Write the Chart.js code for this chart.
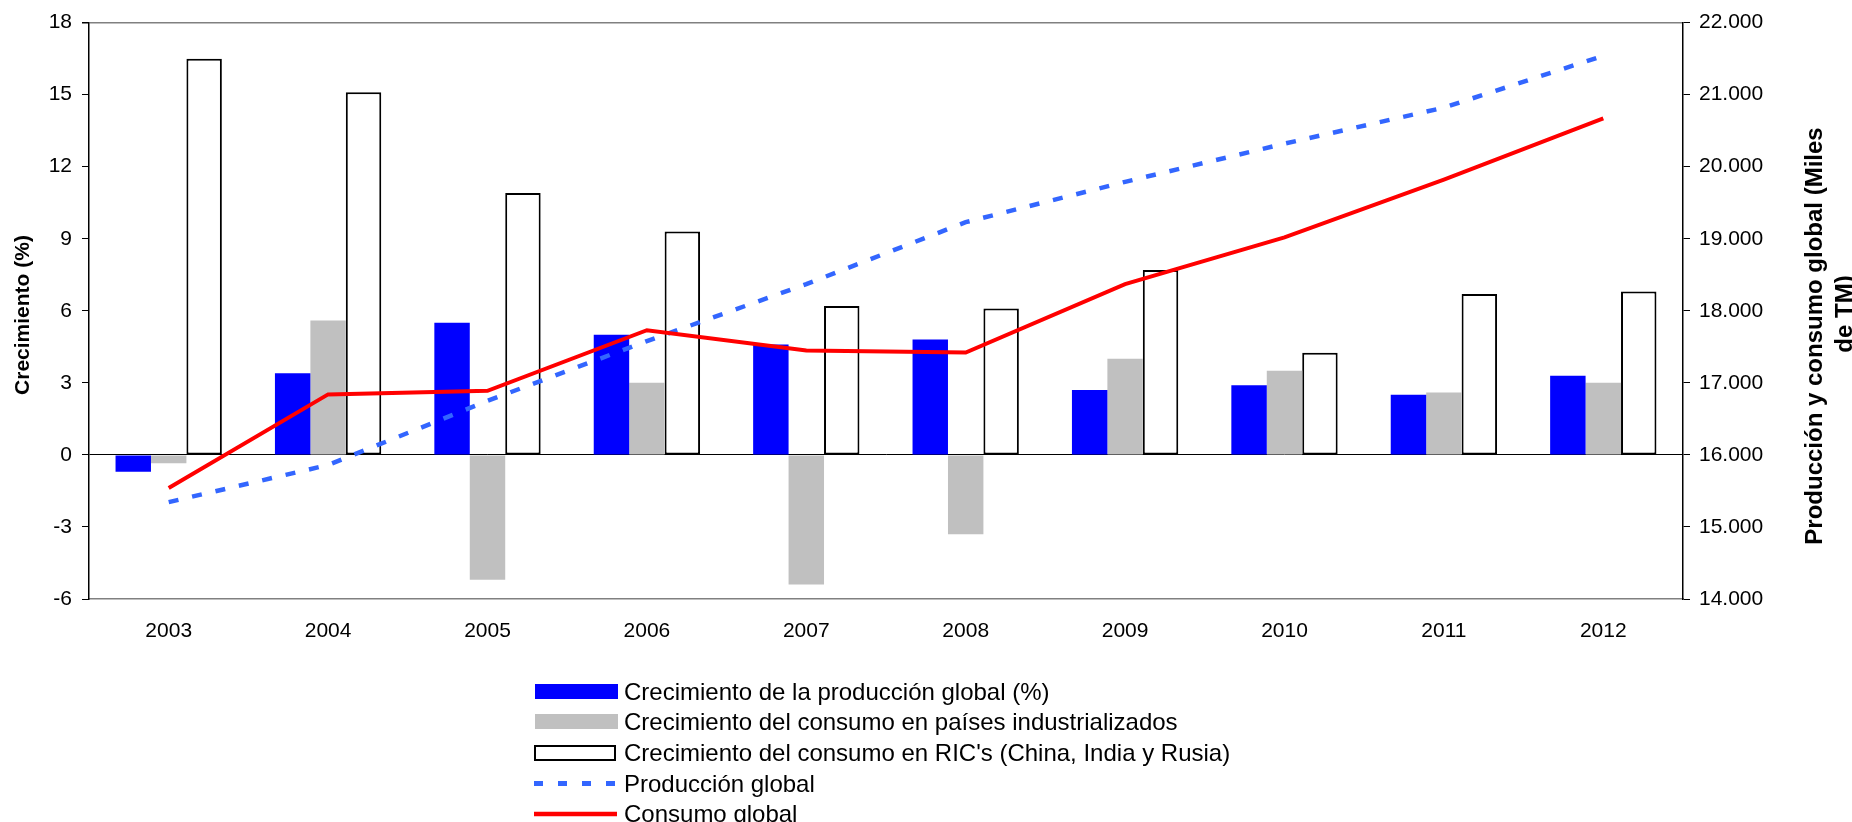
<!DOCTYPE html>
<html>
<head>
<meta charset="utf-8">
<script src="https://cdn.jsdelivr.net/npm/chart.js@4"></script>
<style>
  html, body { margin: 0; padding: 0; background: #fff; }
  #wrap { width: 1852px; height: 822px; }
</style>
</head>
<body>
<div id="wrap"><canvas id="chart1" width="1852" height="822"></canvas></div>
<script>
const years = ['2003', '2004', '2005', '2006', '2007', '2008', '2009', '2010', '2011', '2012'];

// crecimiento anual (%)
const prodGrowth = [-0.7, 3.4, 5.5, 5.0, 4.6, 4.8, 2.7, 2.9, 2.5, 3.3];
const indGrowth = [-0.35, 5.6, -5.2, 3.0, -5.4, -3.3, 4.0, 3.5, 2.6, 3.0];
const ricGrowth = [16.5, 15.1, 10.9, 9.3, 6.2, 6.1, 7.7, 4.25, 6.7, 6.8];

// miles de TM
const prodGlobal = [15345, 15860, 16750, 17580, 18370, 19230, 19790, 20320, 20820, 21540];
const consGlobal = [15540, 16840, 16890, 17730, 17450, 17420, 18370, 19020, 19820, 20670];

const leftTicks = { min: -6, max: 18, step: 3 };
const rightTicks = { min: 14000, max: 22000, step: 1000 };

const FONT = "'Liberation Sans', Arial, sans-serif";

const fmtMiles = v => String(v).replace(/\B(?=(\d{3})+(?!\d))/g, '.');

// titles + vertical legend, drawn on the canvas after the chart
const extras = {
    id: 'extras',
    afterDraw(chart) {
        const ctx = chart.ctx;
        ctx.save();
        ctx.fillStyle = '#000';
        ctx.textAlign = 'center';
        ctx.textBaseline = 'middle';

        ctx.font = 'bold 21px ' + FONT;
        ctx.save();
        ctx.translate(23, 315);
        ctx.rotate(-Math.PI / 2);
        ctx.fillText('Crecimiento (%)', 0, 0);
        ctx.restore();

        ctx.font = 'bold 24px ' + FONT;
        ctx.textBaseline = 'alphabetic';
        ctx.save();
        ctx.translate(1822, 336);
        ctx.rotate(-Math.PI / 2);
        ctx.fillText('Producción y consumo global (Miles', 0, 0);
        ctx.restore();
        ctx.save();
        ctx.translate(1852, 314);
        ctx.rotate(-Math.PI / 2);
        ctx.fillText('de TM)', 0, 0);
        ctx.restore();

        // legend
        const rows = [691.5, 721.5, 753, 783.5, 814];
        ctx.font = '24px ' + FONT;
        ctx.textAlign = 'left';
        chart.data.datasets.forEach((ds, i) => {
            const cy = rows[i];
            if (ds.type === 'line') {
                ctx.save();
                ctx.strokeStyle = ds.borderColor;
                ctx.lineWidth = ds.borderWidth + 0.5;
                ctx.setLineDash(ds.borderDash ? [9, 15] : []);
                ctx.beginPath();
                ctx.moveTo(534, cy);
                ctx.lineTo(617, cy);
                ctx.stroke();
                ctx.restore();
            } else if (ds.borderWidth) {
                ctx.fillStyle = ds.backgroundColor;
                ctx.fillRect(535, cy - 7, 80, 14);
                ctx.strokeStyle = ds.borderColor;
                ctx.lineWidth = 2;
                ctx.strokeRect(535, cy - 7, 80, 14);
            } else {
                ctx.fillStyle = ds.backgroundColor;
                ctx.fillRect(535, cy - 7.5, 83, 15);
            }
            ctx.fillStyle = '#000';
            ctx.fillText(ds.label, 624, cy + 8);
        });
        ctx.restore();
    }
};

const barOpts = { categoryPercentage: 0.667, barPercentage: 1.0, yAxisID: 'y', order: 2 };

new Chart(document.getElementById('chart1').getContext('2d'), {
    type: 'bar',
    data: {
        labels: years,
        datasets: [
            Object.assign({
                label: 'Crecimiento de la producción global (%)',
                data: prodGrowth,
                backgroundColor: '#0000FF',
                borderWidth: 0
            }, barOpts),
            Object.assign({
                label: 'Crecimiento del consumo en países industrializados',
                data: indGrowth,
                backgroundColor: '#C0C0C0',
                borderWidth: 0
            }, barOpts),
            Object.assign({
                label: "Crecimiento del consumo en RIC's (China, India y Rusia)",
                data: ricGrowth,
                backgroundColor: '#FFFFFF',
                borderColor: '#000000',
                borderWidth: 2,
                borderSkipped: false
            }, barOpts),
            {
                type: 'line',
                label: 'Producción global',
                data: prodGlobal,
                yAxisID: 'y1',
                borderColor: '#3366FF',
                borderWidth: 4.5,
                borderDash: [10, 14],
                borderCapStyle: 'butt',
                pointRadius: 0,
                tension: 0,
                fill: false,
                order: 1
            },
            {
                type: 'line',
                label: 'Consumo global',
                data: consGlobal,
                yAxisID: 'y1',
                borderColor: '#FF0000',
                borderWidth: 4,
                pointRadius: 0,
                tension: 0,
                fill: false,
                order: 0
            }
        ]
    },
    options: {
        responsive: false,
        animation: false,
        devicePixelRatio: 1,
        layout: { padding: { top: 18, left: 0, right: 0, bottom: 0 } },
        plugins: {
            legend: { display: false },
            tooltip: { enabled: false }
        },
        scales: {
            x: {
                grid: { display: false, drawTicks: false },
                border: { display: true, color: '#808080', width: 1.5 },
                ticks: { color: '#000', font: { family: FONT, size: 21 }, padding: 20, maxRotation: 0 },
                afterFit: s => { s.height = 223; }
            },
            y: {
                position: 'left',
                min: leftTicks.min,
                max: leftTicks.max,
                ticks: { stepSize: leftTicks.step, color: '#000', font: { family: FONT, size: 21 }, padding: 10 },
                grid: {
                    color: c => c.tick.value === 0 ? '#000' : (c.tick.value === leftTicks.max ? '#808080' : 'transparent'),
                    lineWidth: c => c.tick.value === leftTicks.max ? 1.5 : 1,
                    tickColor: '#000',
                    tickLength: 7
                },
                border: { color: '#000', width: 1.5 },
                afterFit: s => { s.width = 89; }
            },
            y1: {
                position: 'right',
                min: rightTicks.min,
                max: rightTicks.max,
                ticks: { stepSize: rightTicks.step, color: '#000', font: { family: FONT, size: 21 }, padding: 9, callback: v => fmtMiles(v) },
                grid: { drawOnChartArea: false, tickColor: '#000', tickLength: 7 },
                border: { color: '#000', width: 1.5 },
                afterFit: s => { s.width = 169; }
            }
        }
    },
    plugins: [extras]
});
</script>
</body>
</html>
